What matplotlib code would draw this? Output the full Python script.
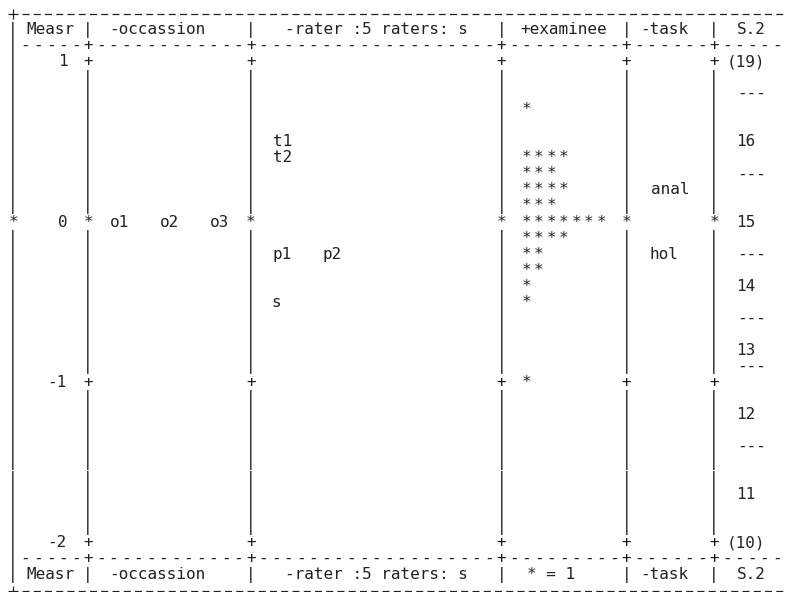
import numpy as np
import matplotlib
matplotlib.use("Agg")
import matplotlib.pyplot as plt

measure_ticks = [1, 0, -1, -2]

occasion_labels = ["o1", "o2", "o3"]
occasion_measures = [0.0, 0.0, 0.0]

rater_labels = ["t1", "t2", "p1", "p2", "s"]
rater_measures = [0.5, 0.4, -0.2, -0.2, -0.5]

examinee_measures = [0.7, 0.4, 0.3, 0.2, 0.1, 0.0, -0.1, -0.2, -0.3, -0.4, -0.5, -1.0]
examinee_counts = [1, 4, 3, 4, 3, 7, 4, 2, 2, 1, 1, 1]

task_labels = ["anal", "hol"]
task_measures = [0.2, -0.2]

scale_labels = ["(19)", "---", "16", "---", "15", "---", "14", "---",
                "13", "---", "12", "---", "11", "(10)"]
scale_measures = [1.0, 0.8, 0.5, 0.3, 0.0, -0.2, -0.4, -0.6,
                  -0.8, -0.9, -1.2, -1.4, -1.7, -2.0]

header_labels = ["Measr", "-occassion", "-rater :5 raters: s", "+examinee", "-task", "S.2"]
footer_labels = ["Measr", "-occassion", "-rater :5 raters: s", "* = 1", "-task", "S.2"]

LINE = 0.1                      # one printed line per 0.1 logit
widths = [5, 12, 19, 9, 6, 5]   # characters in each column
bars = np.concatenate([[0], np.cumsum(np.array(widths) + 1)])   # column of each "|"
last = bars[-1]                 # right frame, just past the picture edge

INK = "#222222"
FONT = dict(family="DejaVu Sans Mono", fontsize=11.5, color=INK)

fig = plt.figure(figsize=(7.87, 5.92), dpi=100)
ax = fig.add_axes([0, 0, 1, 1])
ax.set_xlim(-1.04, 61.82)
ax.set_ylim(-2.308, 1.385)
ax.axis("off")


def glyph(col, y, ch, **kw):
    # one character in one text cell
    ax.text(col, y, ch, ha="center", va="center", **{**FONT, **kw})


def label(col0, y, s, **kw):
    # a whole label centred on the cells it takes up
    ax.text(col0 + (len(s) - 1) / 2, y, s, ha="center", va="center", **{**FONT, **kw})


def column_labels(bar, labels, measures):
    # labels at the same measure go side by side, two spaces apart
    rows = {}
    for lab, m in zip(labels, measures):
        rows.setdefault(m, []).append(lab)
    for m, labs in rows.items():
        col = bar + 2
        for lab in labs:
            label(col, m, lab)
            col += len(lab) + 2


# ruler lines between 1 and -2 logits
rows = np.round(np.arange(measure_ticks[0] / LINE, measure_ticks[-1] / LINE - 0.5, -1) * LINE, 1)
for m in rows:
    is_zero = abs(m) < 1e-9
    is_tick = abs(m - round(m)) < 1e-9
    for i, b in enumerate(bars[:-1]):
        if is_zero:
            ch = "*"
        elif is_tick and i > 0:
            ch = "+"
        else:
            ch = "|"
        glyph(b, m, ch)

top = measure_ticks[0]
bottom = measure_ticks[-1]

# outer frame: "+----..." drawn as a dashed rule so it can run to the edge
for y in [top + 3 * LINE, bottom - 3 * LINE]:
    ax.plot([0.68, 61.82], [y, y], color=INK, lw=0.9,
            dashes=(5.6, 3.4), solid_capstyle="butt", dash_capstyle="butt")
    ax.plot([0], [y], marker="+", ms=6.5, mew=0.9, color=INK, linestyle="none")

# separator lines under the header and above the footer
for y in [top + LINE, bottom - LINE]:
    glyph(0, y, "|")
    for c in range(1, last):
        glyph(c, y, "+" if c in bars else "-")

header_pad = [0, 0, 0, 0, 0, 1]
footer_pad = [0, 0, 0, 1, 0, 1]
for y, labs, pads in [(top + 2 * LINE, header_labels, header_pad),
                      (bottom - 2 * LINE, footer_labels, footer_pad)]:
    for b in bars[:-1]:
        glyph(b, y, "|")
    for b, lab, p in zip(bars[:-1], labs, pads):
        label(b + 1 + p, y, lab)

# measure column, right aligned
for t in measure_ticks:
    s = str(t)
    label(bars[1] - 1 - len(s), t, s)

column_labels(bars[1], occasion_labels, occasion_measures)
column_labels(bars[2], rater_labels, rater_measures)
column_labels(bars[4], task_labels, task_measures)

# examinees: one star each
for m, n in zip(examinee_measures, examinee_counts):
    for k in range(n):
        glyph(bars[3] + 2 + k, m, "*")

# rating scale column
for lab, m in zip(scale_labels, scale_measures):
    start = bars[5] + 1 if lab.startswith("(") else bars[5] + 2
    label(start, m, lab)

fig.savefig("out.png", dpi=100, facecolor="white")
